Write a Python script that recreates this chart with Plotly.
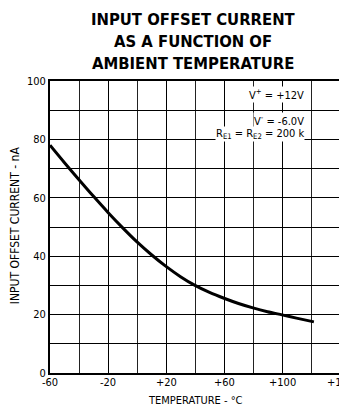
import plotly.graph_objects as go

# Data
temperature_c = [-60, -50, -40, -30, -20, -10, 0, 10, 20, 30, 40, 50, 60, 70, 80, 90, 100, 110, 122]
offset_current_na = [78, 72, 66.2, 60.5, 55, 49.8, 44.9, 40.5, 36.5, 33, 30, 27.6, 25.6, 23.8, 22.3, 21, 19.9, 18.8, 17.5]

x_tick_vals = [-60, -20, 20, 60, 100, 140]
x_tick_text = ["-60", "-20", "+20", "+60", "+100", "+140"]
y_tick_vals = [0, 20, 40, 60, 80, 100]
y_tick_text = ["0", "20", "40", "60", "80", "100"]

title_lines = ["INPUT OFFSET CURRENT", "AS A FUNCTION OF", "AMBIENT TEMPERATURE"]
condition_lines = ["V<sup>+</sup> = +12V", "V<sup>-</sup> = -6.0V", "R<sub>E1</sub> = R<sub>E2</sub> = 200 k"]

FONT = "DejaVu Sans Condensed, Liberation Sans Narrow, sans-serif"

# page body has an 8px margin; figure coordinates are page coordinates minus 8
W, H = 339, 402
L, R, T, B = 42, 5, 73, 37
PW = W - L - R   # plot width in px
PH = H - T - B   # plot height in px


def px_x(page_x):
    return (page_x - 8 - L) / PW


def px_y(page_y):
    return (H - B - (page_y - 8)) / PH


fig = go.Figure()
fig.add_trace(go.Scatter(
    x=temperature_c, y=offset_current_na, mode="lines",
    line=dict(color="black", width=3, shape="spline", smoothing=0.8),
    showlegend=False, hoverinfo="skip",
))

fig.update_layout(
    width=W, height=H,
    margin=dict(l=L, r=R, t=T, b=B),
    paper_bgcolor="white", plot_bgcolor="white",
    font=dict(family=FONT, color="black", size=12),
    showlegend=False,
)

# x tick labels: the last one sits at the figure's edge, so draw labels as annotations
fig.update_xaxes(
    range=[-60, 140], tickvals=x_tick_vals, ticktext=[""] * len(x_tick_vals),
    showgrid=True, gridcolor="black", gridwidth=1,
    minor=dict(dtick=20, tick0=-60, showgrid=True, gridcolor="#222", gridwidth=1),
    showline=True, linecolor="black", linewidth=2, mirror=True,
    ticks="", zeroline=False, tickfont=dict(size=11, family=FONT),
)
for xv, xt in zip(x_tick_vals, x_tick_text):
    fig.add_annotation(
        text=xt, xref="x", yref="paper", x=xv, y=px_y(382),
        xanchor="center", yanchor="middle", showarrow=False,
        font=dict(size=11, family=FONT),
    )

fig.update_yaxes(
    range=[0, 100], tickvals=y_tick_vals, ticktext=y_tick_text,
    showgrid=True, gridcolor="black", gridwidth=1,
    minor=dict(dtick=10, tick0=0, showgrid=True, gridcolor="black", gridwidth=1),
    showline=True, linecolor="black", linewidth=2, mirror=True,
    ticks="", zeroline=False, tickfont=dict(size=11, family=FONT),
)

# Title lines
title_y_px = [19, 41.5, 63.5]
for line, ypx in zip(title_lines, title_y_px):
    fig.add_annotation(
        text="<b>" + line + "</b>", xref="paper", yref="paper",
        x=px_x(194), y=px_y(ypx),
        xanchor="center", yanchor="middle", showarrow=False,
        font=dict(size=16.5, family=FONT, color="black"),
    )

# Axis titles
fig.add_annotation(
    text="INPUT OFFSET CURRENT - nA", xref="paper", yref="paper",
    x=px_x(15), y=px_y(225), textangle=-90,
    xanchor="center", yanchor="middle", showarrow=False,
    font=dict(size=12, family=FONT),
)
fig.add_annotation(
    text="TEMPERATURE - °C", xref="paper", yref="paper",
    x=px_x(196), y=px_y(400),
    xanchor="center", yanchor="middle", showarrow=False,
    font=dict(size=11, family=FONT),
)

# Condition notes
cond_y = [95.5, 86.5, 82]
for line, yv in zip(condition_lines, cond_y):
    fig.add_annotation(
        text=line, xref="x", yref="y", x=116, y=yv,
        xanchor="right", yanchor="middle", showarrow=False,
        bgcolor="white", borderpad=0,
        font=dict(size=11, family=FONT),
    )

fig.write_html("out.html")
